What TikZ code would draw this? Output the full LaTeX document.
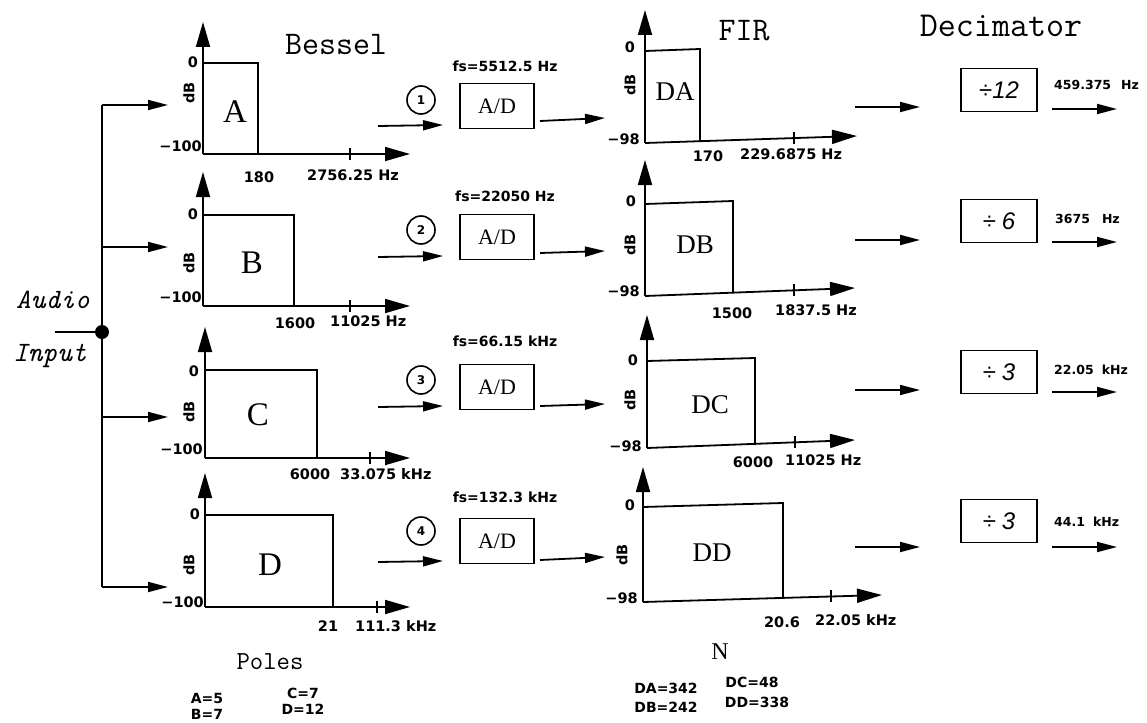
\documentclass[tikz,border=0pt]{standalone}
\usepackage{fontspec}
\newfontfamily\labf{DejaVu Sans}
\newfontfamily\divf{Liberation Sans}
\newfontfamily\serf{Liberation Serif}
\usetikzlibrary{arrows.meta}
\tikzset{
 lw/.style={line width=1.8pt},
 axarr/.style={lw, -{Triangle[length=25pt,width=14pt]}},
 conn/.style={lw, -{Triangle[length=20pt,width=10pt]}},
 lbl/.style={font=\labf\bfseries\fontsize{14.5}{15}\selectfont, inner sep=0pt},
 fsl/.style={font=\labf\bfseries\fontsize{14}{14}\selectfont, inner sep=0pt},
 outl/.style={font=\labf\bfseries\fontsize{12.5}{13}\selectfont, inner sep=0pt},
 tinyl/.style={font=\labf\bfseries\fontsize{14}{14}\selectfont, inner sep=0pt},
 bigl/.style={font=\serf\fontsize{33}{33}\selectfont, inner sep=0pt},
 firl/.style={font=\serf\fontsize{27}{27}\selectfont, inner sep=0pt},
 dbl/.style={lbl, rotate=90},
 adbox/.style={draw, lw, minimum width=74pt, minimum height=45pt, inner sep=0pt, font=\serf\fontsize{22}{22}\selectfont},
 decbox/.style={draw, lw, minimum width=76pt, minimum height=43pt, inner sep=0pt, font=\divf\itshape\fontsize{24}{24}\selectfont},
 circ/.style={draw, circle, line width=1.6pt, minimum size=28pt, inner sep=0pt, font=\labf\bfseries\fontsize{12}{12}\selectfont},
 ttl/.style={inner sep=0pt},
}
\begin{document}
\begin{tikzpicture}[x=1pt,y=-1pt]
\useasboundingbox (0,0) rectangle (1147,722);

% ---------- input bus ----------
\node[circle, fill, minimum size=14pt, inner sep=0pt] (dot) at (102,332) {};
\coordinate (inL) at (55,332);
\coordinate (busT) at (102,105);
\coordinate (busB) at (102,587);
\draw[lw] (inL) -- (dot);
\draw[lw] (busT) -- (busB);
\coordinate (brB) at (102,247);
\coordinate (brC) at (102,417);
\coordinate (tA) at (168,105);
\coordinate (tB) at (168,247);
\coordinate (tC) at (168,417);
\coordinate (tD) at (168,587);
\draw[conn] (busT) -- (tA);
\draw[conn] (brB) -- (tB);
\draw[conn] (brC) -- (tC);
\draw[conn] (busB) -- (tD);
\node[ttl, font=\ttfamily\itshape\fontsize{28}{28}\selectfont] (audio) at (53,300) {Audio};
\node[ttl, font=\ttfamily\itshape\fontsize{28}{28}\selectfont] (input) at (50,356) {Input};

% ---------- titles ----------
\node[ttl, font=\ttfamily\fontsize{33}{33}\selectfont] (bessel) at (336,45) {Bessel};
\node[ttl, font=\ttfamily\fontsize{33}{33}\selectfont] (fir) at (744,31) {FIR};
\node[ttl, font=\ttfamily\fontsize{35}{35}\selectfont] (decim) at (1001,26) {Decimator};
\node[ttl, font=\ttfamily\fontsize{26}{26}\selectfont] (poles) at (270,662) {Poles};
\node[ttl, font=\serf\fontsize{24}{24}\selectfont] (nn) at (720,652) {N};
\node[tinyl] (pA) at (207,698) {A=5};
\node[tinyl] (pB) at (207,714) {B=7};
\node[tinyl] (pC) at (303,693) {C=7};
\node[tinyl] (pD) at (303,709) {D=12};
\node[tinyl] (nA) at (666,688) {DA=342};
\node[tinyl] (nB) at (666,707) {DB=242};
\node[tinyl] (nC) at (752,682) {DC=48};
\node[tinyl] (nD) at (757,702) {DD=338};

% ---------- Bessel A ----------
\coordinate (aO) at (203,154); \coordinate (aY) at (203,22); \coordinate (aX) at (410,154);
\draw[axarr] (aO) -- (aY); \draw[axarr] (aO) -- (aX);
\draw[lw] (203,63) -- (258,63) -- (258,154);
\draw[lw] (350,148) -- (350,160);
\node[lbl] (a0) at (193,62) {0};
\node[dbl] (adb) at (189,93) {dB};
\node[lbl, anchor=east] (am) at (202,146) {−100};
\node[lbl] (a180) at (259,177) {180};
\node[lbl, anchor=west] (af) at (307,175) {2756.25 Hz};
\node[bigl] (aL) at (235,112) {A};

% ---------- Bessel B ----------
\coordinate (bO) at (203,306); \coordinate (bY) at (203,172); \coordinate (bX) at (410,306);
\draw[axarr] (bO) -- (bY); \draw[axarr] (bO) -- (bX);
\draw[lw] (203,215) -- (294,215) -- (294,306);
\draw[lw] (350,300) -- (350,312);
\node[lbl] (b0) at (193,214) {0};
\node[dbl] (bdb) at (189,263) {dB};
\node[lbl, anchor=east] (bm) at (202,297) {−100};
\node[lbl] (b1600) at (295,323) {1600};
\node[lbl, anchor=west] (bf) at (330,321) {11025 Hz};
\node[bigl] (bL) at (252,263) {B};

% ---------- Bessel C ----------
\coordinate (cO) at (205,458); \coordinate (cY) at (205,327); \coordinate (cX) at (410,458);
\draw[axarr] (cO) -- (cY); \draw[axarr] (cO) -- (cX);
\draw[lw] (205,370) -- (317,370) -- (317,458);
\draw[lw] (370,452) -- (370,464);
\node[lbl] (c0) at (194,371) {0};
\node[dbl] (cdb) at (189,412) {dB};
\node[lbl, anchor=east] (cm) at (203,449) {−100};
\node[lbl] (c6000) at (310,474) {6000};
\node[lbl, anchor=west] (cf) at (340,474) {33.075 kHz};
\node[bigl] (cL) at (258,415) {C};

% ---------- Bessel D ----------
\coordinate (dO) at (205,607); \coordinate (dY) at (205,473); \coordinate (dX) at (410,607);
\draw[axarr] (dO) -- (dY); \draw[axarr] (dO) -- (dX);
\draw[lw] (205,515) -- (333,515) -- (333,607);
\draw[lw] (377,601) -- (377,613);
\node[lbl] (d0) at (195,514) {0};
\node[dbl] (ddb) at (189,565) {dB};
\node[lbl, anchor=east] (dm) at (204,602) {−100};
\node[lbl] (d21) at (328,626) {21};
\node[lbl, anchor=west] (df) at (355,626) {111.3 kHz};
\node[bigl] (dL) at (270,565) {D};

% ---------- A/D stage ----------
\node[circ] (k1) at (421,100) {1};
\node[circ] (k2) at (421,230) {2};
\node[circ] (k3) at (421,380) {3};
\node[circ] (k4) at (421,531) {4};
\node[adbox] (ad1) at (497,106) {A/D};
\node[adbox] (ad2) at (497,237) {A/D};
\node[adbox] (ad3) at (497,387) {A/D};
\node[adbox] (ad4) at (497,541) {A/D};
\node[fsl] (fs1) at (505,66) {fs=5512.5 Hz};
\node[fsl] (fs2) at (505,196) {fs=22050 Hz};
\node[fsl] (fs3) at (505,341) {fs=66.15 kHz};
\node[fsl] (fs4) at (505,497) {fs=132.3 kHz};
\coordinate (s1) at (378,126); \coordinate (e1) at (443,125);
\coordinate (s2) at (378,257); \coordinate (e2) at (443,256);
\coordinate (s3) at (378,407); \coordinate (e3) at (443,406);
\coordinate (s4) at (378,562); \coordinate (e4) at (443,561);
\draw[conn] (s1) -- (e1);
\draw[conn] (s2) -- (e2);
\draw[conn] (s3) -- (e3);
\draw[conn] (s4) -- (e4);
\coordinate (o1) at (540,121); \coordinate (f1) at (605,118);
\coordinate (o2) at (540,253); \coordinate (f2) at (605,251);
\coordinate (o3) at (540,406); \coordinate (f3) at (605,404);
\coordinate (o4) at (540,560); \coordinate (f4) at (605,557);
\draw[conn] (o1) -- (f1);
\draw[conn] (o2) -- (f2);
\draw[conn] (o3) -- (f3);
\draw[conn] (o4) -- (f4);

% ---------- FIR DA ----------
\coordinate (gaO) at (645,143); \coordinate (gaY) at (645,10); \coordinate (gaX) at (857,136);
\draw[axarr] (gaO) -- (gaY); \draw[axarr] (gaO) -- (gaX);
\draw[lw] (645,51) -- (700,49) -- (700,141);
\draw[lw] (794,132) -- (794,144);
\node[lbl] (ga0) at (630,47) {0};
\node[dbl] (gadb) at (630,85) {dB};
\node[lbl, anchor=east] (gam) at (640,139) {−98};
\node[firl] (gaL) at (675,92) {DA};
\node[lbl] (ga170) at (708,156) {170};
\node[lbl, anchor=west] (gaf) at (740,154) {229.6875 Hz};

% ---------- FIR DB ----------
\coordinate (gbO) at (645,296); \coordinate (gbY) at (645,160); \coordinate (gbX) at (855,288);
\draw[axarr] (gbO) -- (gbY); \draw[axarr] (gbO) -- (gbX);
\draw[lw] (645,204) -- (733,201) -- (733,293);
\draw[lw] (794,284) -- (794,296);
\node[lbl] (gb0) at (631,201) {0};
\node[dbl] (gbdb) at (630,245) {dB};
\node[lbl, anchor=east] (gbm) at (640,291) {−98};
\node[firl] (gbL) at (695,245) {DB};
\node[lbl] (gb1500) at (732,313) {1500};
\node[lbl, anchor=west] (gbf) at (775,310) {1837.5 Hz};

% ---------- FIR DC ----------
\coordinate (gcO) at (647,448); \coordinate (gcY) at (647,315); \coordinate (gcX) at (855,440);
\draw[axarr] (gcO) -- (gcY); \draw[axarr] (gcO) -- (gcX);
\draw[lw] (647,361) -- (755,358) -- (755,445);
\draw[lw] (795,436) -- (795,448);
\node[lbl] (gc0) at (633,360) {0};
\node[dbl] (gcdb) at (630,400) {dB};
\node[lbl, anchor=east] (gcm) at (642,446) {−98};
\node[firl] (gcL) at (710,405) {DC};
\node[lbl] (gc6000) at (753,462) {6000};
\node[lbl, anchor=west] (gcf) at (785,460) {11025 Hz};

% ---------- FIR DD ----------
\coordinate (gdO) at (643,602); \coordinate (gdY) at (643,467); \coordinate (gdX) at (882,595);
\draw[axarr] (gdO) -- (gdY); \draw[axarr] (gdO) -- (gdX);
\draw[lw] (643,507) -- (783,503) -- (783,598);
\draw[lw] (831,590) -- (831,602);
\node[lbl] (gd0) at (630,505) {0};
\node[dbl] (gddb) at (622,555) {dB};
\node[lbl, anchor=east] (gdm) at (638,598) {−98};
\node[firl] (gdL) at (712,553) {DD};
\node[lbl] (gd206) at (782,622) {20.6};
\node[lbl, anchor=west] (gdf) at (815,620) {22.05 kHz};

% ---------- Decimators ----------
\node[decbox] (dv1) at (999,90) {{\upshape÷}12};
\node[decbox] (dv2) at (999,221) {{\upshape÷}\hspace{6pt}6};
\node[decbox] (dv3) at (999,372) {{\upshape÷}\hspace{6pt}3};
\node[decbox] (dv4) at (999,521) {{\upshape÷}\hspace{6pt}3};
\coordinate (h1) at (855,107); \coordinate (i1) at (920,107);
\coordinate (h2) at (855,240); \coordinate (i2) at (920,240);
\coordinate (h3) at (855,390); \coordinate (i3) at (920,390);
\coordinate (h4) at (855,547); \coordinate (i4) at (920,547);
\draw[conn] (h1) -- (i1);
\draw[conn] (h2) -- (i2);
\draw[conn] (h3) -- (i3);
\draw[conn] (h4) -- (i4);
\coordinate (u1) at (1052,109); \coordinate (v1) at (1117,109);
\coordinate (u2) at (1052,242); \coordinate (v2) at (1117,242);
\coordinate (u3) at (1052,392); \coordinate (v3) at (1117,392);
\coordinate (u4) at (1052,547); \coordinate (v4) at (1117,547);
\draw[conn] (u1) -- (v1);
\draw[conn] (u2) -- (v2);
\draw[conn] (u3) -- (v3);
\draw[conn] (u4) -- (v4);
\node[outl, anchor=west] (r1) at (1054,85) {459.375\hspace{10pt}Hz};
\node[outl, anchor=west] (r2) at (1055,219) {3675\hspace{12pt}Hz};
\node[outl, anchor=west] (r3) at (1054,370) {22.05\hspace{8pt}kHz};
\node[outl, anchor=west] (r4) at (1054,522) {44.1\hspace{8pt}kHz};
\end{tikzpicture}
\end{document}
